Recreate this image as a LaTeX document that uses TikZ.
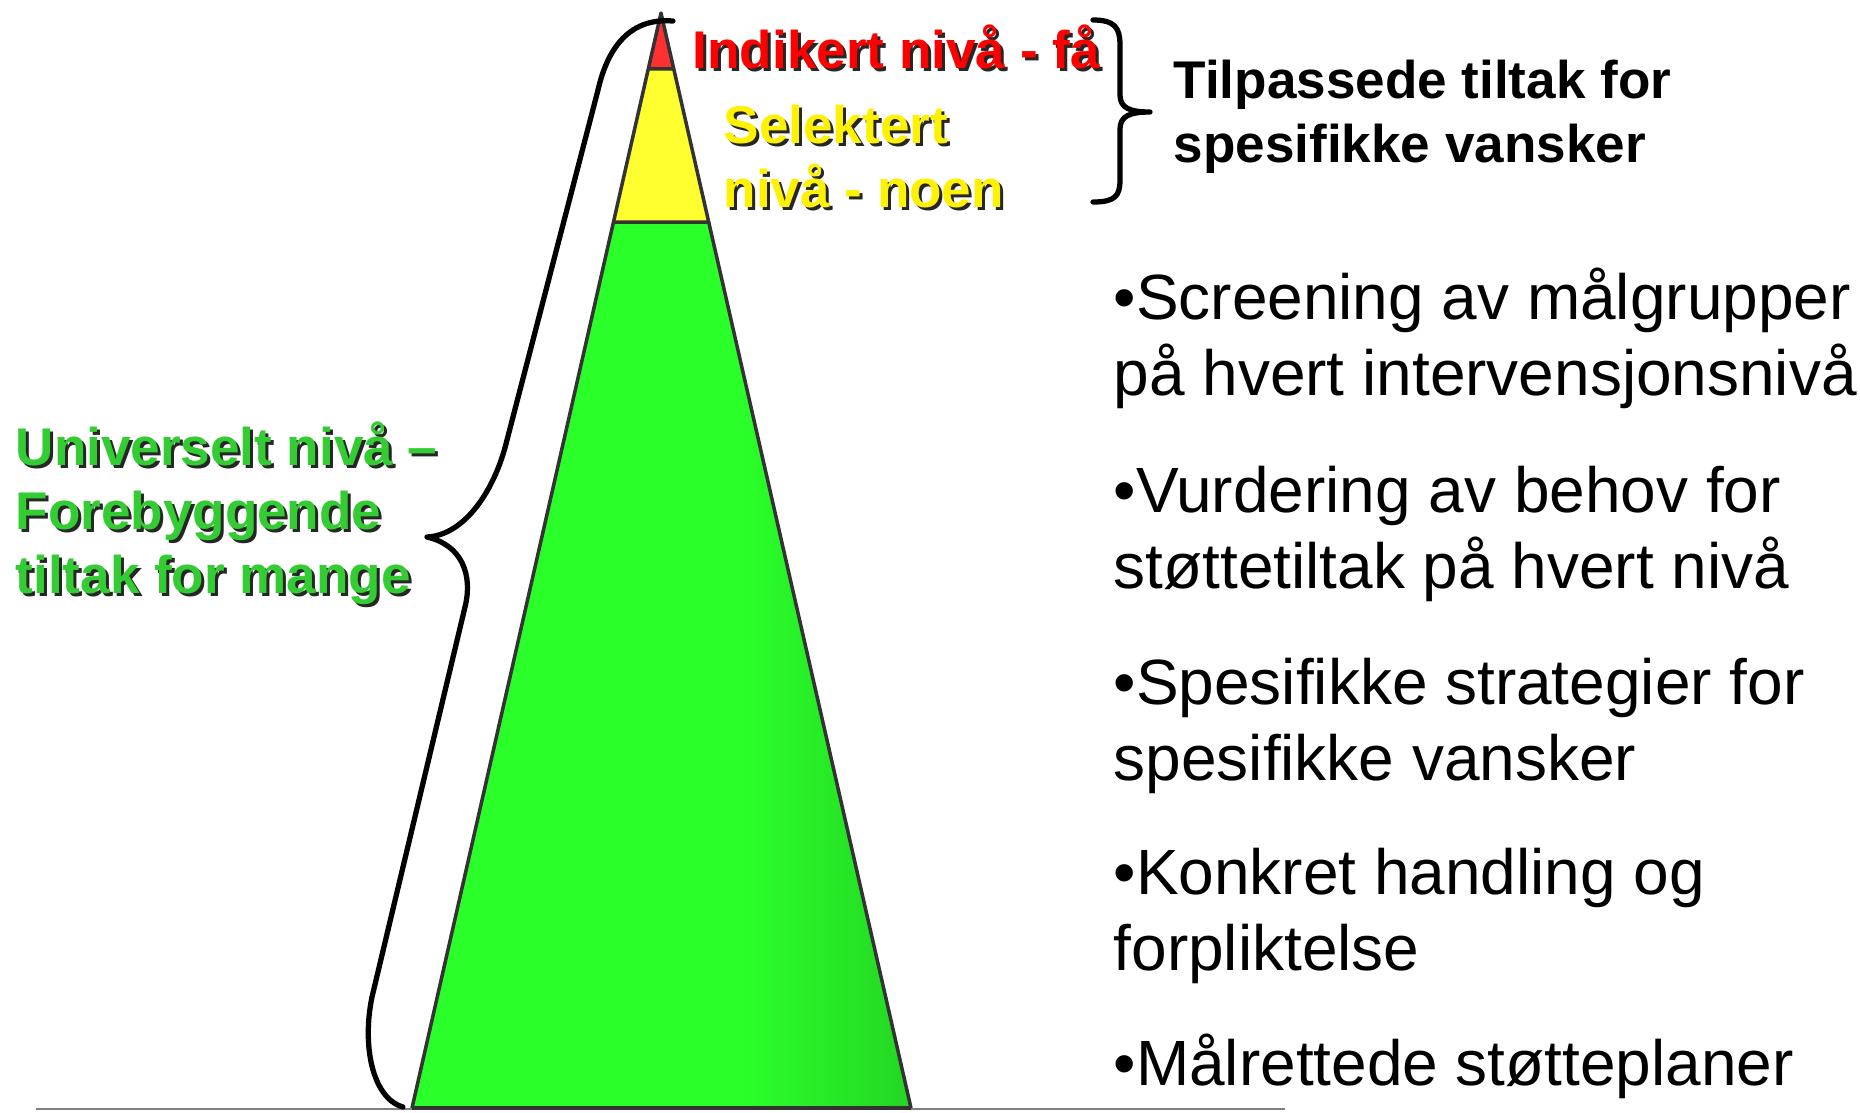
\documentclass[tikz,border=0pt]{standalone}
\usepackage{fontspec}
\setmainfont{Liberation Sans}
\usetikzlibrary{calc}

\definecolor{redband}{RGB}{255,48,48}
\definecolor{yellowband}{RGB}{255,255,48}
\definecolor{greenband}{RGB}{42,255,42}
\definecolor{greenbanddark}{RGB}{36,214,36}
\definecolor{greentext}{RGB}{51,204,51}
\definecolor{bandgray}{RGB}{51,51,51}

% green band gets darker towards its right edge
\pgfdeclarehorizontalshading{greenfade}{100bp}{color(0bp)=(greenband); color(58bp)=(greenband); color(75bp)=(greenbanddark); color(100bp)=(greenbanddark)}

\tikzset{
	lbl/.style={font=\bfseries\fontsize{15.1}{18.2}\selectfont, anchor=base west, align=left, inner sep=0pt},
	bullettext/.style={font=\fontsize{18.2}{21.6}\selectfont, anchor=base west, align=left, inner sep=0pt},
	brace/.style={line width=1.5pt, line cap=round, line join=round},
	bandline/.style={draw=bandgray, line width=1pt, line join=round},
}

% label with a dark drop shadow (anchored at the baseline of its last line)
\newcommand{\shadowlabel}[4]{%
	\node[lbl, text=black!85, xshift=0.3mm, yshift=-0.3mm] (#1-shadow) at #2 {#4};
	\node[lbl, text=#3] (#1) at #2 {#4};
}

\begin{document}
\begin{tikzpicture}[x=0.1mm, y=-0.1mm]
	\useasboundingbox (0,0) rectangle (1860,1112);
	
	% ground
	\draw[gray, line width=0.6pt] (36,1109) -- (1285,1109);
	
	% pyramid
	\coordinate (apex) at (661,13);
	\coordinate (bl) at (412,1108);
	\coordinate (br) at (911,1108);
	\coordinate (redl) at ($(apex)!0.0511!(bl)$);
	\coordinate (redr) at ($(apex)!0.0511!(br)$);
	\coordinate (yell) at ($(apex)!0.1909!(bl)$);
	\coordinate (yelr) at ($(apex)!0.1909!(br)$);
	\fill[redband] (apex) -- (redl) -- (redr) -- cycle;
	\fill[yellowband] (redl) -- (yell) -- (yelr) -- (redr) -- cycle;
	\shade[shading=greenfade] (yell) -- (bl) -- (br) -- (yelr) -- cycle;
	\draw[bandline] (bl) -- (apex) -- (br) (redl) -- (redr) (yell) -- (yelr);
	\draw[bandline, line width=1.3pt] (bl) -- (br);
	
	% braces
	\draw[brace] (673,21) .. controls (625,17) and (606,55) .. (598,90) -- (507,440)
	.. controls (495,490) and (465,535) .. (427,537)
	.. controls (462,545) and (473,575) .. (465,607) -- (372,997)
	.. controls (362,1045) and (372,1098) .. (403,1107);
	\draw[brace] (1093,20) .. controls (1115,20) and (1120,28) .. (1120,45) -- (1120,95)
	.. controls (1120,108) and (1130,112) .. (1150,112)
	.. controls (1130,112) and (1120,116) .. (1120,129) -- (1120,180)
	.. controls (1120,196) and (1115,202) .. (1093,202);
	
	% level labels
	\shadowlabel{indikert}{(692,68)}{red}{Indikert nivå - få}
	\shadowlabel{selektert}{(723,207)}{yellow}{Selektert\\nivå - noen}
	\shadowlabel{universelt}{(15,593)}{greentext}{Universelt nivå –\\Forebyggende\\tiltak for mange}
	\node[lbl] (tilpassede) at (1173,162) {Tilpassede tiltak for\\spesifikke vansker};
	
	% bullets
	\node[bullettext] (screening) at (1113,395) {•Screening av målgrupper\\på hvert intervensjonsnivå};
	\node[bullettext] (vurdering) at (1113,588) {•Vurdering av behov for\\støttetiltak på hvert nivå};
	\node[bullettext] (strategier) at (1113,780) {•Spesifikke strategier for\\spesifikke vansker};
	\node[bullettext] (handling) at (1113,970) {•Konkret handling og\\forpliktelse};
	\node[bullettext] (planer) at (1113,1085) {•Målrettede støtteplaner};
\end{tikzpicture}
\end{document}
